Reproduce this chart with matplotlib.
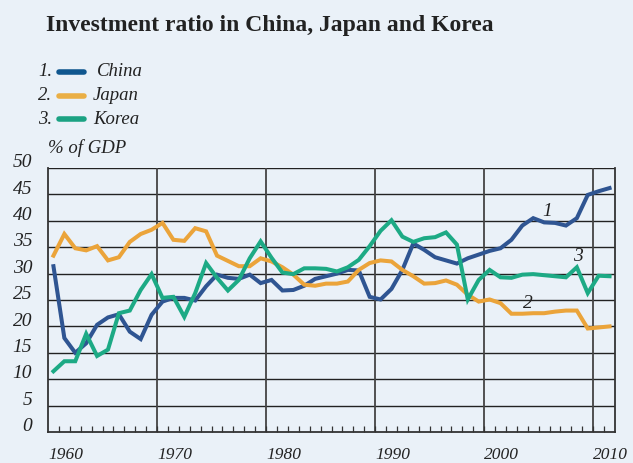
import matplotlib
matplotlib.use('Agg')
import matplotlib.pyplot as plt
import matplotlib.transforms as mtransforms
import numpy as np

# investment ratio, % of GDP, 1960-2011
years = list(range(1960, 2012))
china = [31.4, 17.8, 15.0, 16.8, 20.3, 21.7, 22.3, 19.0, 17.6, 22.2,
         24.7, 25.4, 25.4, 24.9, 27.6, 29.8, 29.2, 29.0, 29.8, 28.2,
         28.8, 26.8, 26.9, 27.7, 29.0, 29.5, 30.0, 30.7, 30.6, 25.6,
         25.1, 27.1, 30.7, 35.7, 34.5, 33.1, 32.5, 31.9, 32.9, 33.6,
         34.3, 34.8, 36.4, 39.1, 40.5, 39.7, 39.6, 39.1, 40.5, 44.9,
         45.6, 46.2]
japan = [33.4, 37.5, 34.8, 34.4, 35.2, 32.5, 33.1, 36.0, 37.5, 38.3,
         39.6, 36.4, 36.2, 38.6, 38.0, 33.4, 32.4, 31.4, 31.4, 32.9,
         32.3, 31.2, 29.8, 27.9, 27.7, 28.1, 28.1, 28.5, 30.7, 32.0,
         32.5, 32.3, 30.7, 29.5, 28.1, 28.2, 28.7, 27.9, 26.0, 24.7,
         25.1, 24.4, 22.4, 22.4, 22.5, 22.5, 22.8, 23.0, 23.0, 19.6,
         19.8, 20.0]
korea = [11.5, 13.4, 13.4, 18.6, 14.4, 15.6, 22.5, 23.0, 26.9, 29.9,
         25.4, 25.6, 21.8, 26.3, 32.0, 29.2, 26.8, 28.8, 32.9, 36.1,
         33.0, 30.2, 29.9, 31.0, 31.0, 30.9, 30.4, 31.2, 32.6, 35.2,
         38.1, 40.1, 37.0, 36.0, 36.7, 36.9, 37.8, 35.5, 25.1, 28.8,
         30.7, 29.3, 29.2, 29.8, 29.9, 29.7, 29.5, 29.3, 31.2, 26.3,
         29.6, 29.5]

names = ['China', 'Japan', 'Korea']
colors = ['#2f5592', '#eba43a', '#1daa85']
legend_colors = ['#10578f', '#eaaf45', '#1ba283']
decades = [1960, 1970, 1980, 1990, 2000, 2010]
yticks = list(range(0, 55, 5))

bg = '#eaf1f8'
plt.rcParams['font.family'] = ['Liberation Serif', 'DejaVu Serif']

fig = plt.figure(figsize=(6.33, 4.63), dpi=100, facecolor=bg)
ax = fig.add_axes([48/633, 31/463, 567/633, 264/463])
ax.set_facecolor(bg)

x = np.array(years) + 0.5
for vals, c in zip([china, japan, korea], colors):
    ax.plot(x, vals, color=c, lw=2.9, solid_joinstyle='miter', zorder=3)

ax.set_xlim(1960, 2012)
ax.set_ylim(0, 50)

# grid
for yv in yticks[1:]:
    ax.axhline(yv, color='#222222', lw=1.0, zorder=1)
for d in decades[1:]:
    ax.axvline(d, color='#444444', lw=1.3, zorder=1)
for s in ax.spines.values():
    s.set_color('#333333')
    s.set_linewidth(1.3)
ax.spines['top'].set_visible(False)

ax.set_xticks([])
ax.set_yticks([])
ax.set_xticks(range(1961, 2012), minor=True)
ax.tick_params(axis='x', which='minor', direction='in', length=4, width=0.9, color='#333333')
ax.tick_params(axis='y', which='both', left=False)

# tick labels
tr_y = mtransforms.blended_transform_factory(ax.transAxes, ax.transData)
for yv in yticks:
    ax.text(-0.028, yv + 1.0, str(yv), transform=tr_y, ha='right', va='center',
            fontsize=14, style='italic', color='#222222')
tr_x = mtransforms.blended_transform_factory(ax.transData, ax.transAxes)
for d in decades:
    ax.text(d, -0.087, str(d), transform=tr_x, ha='left', va='center',
            fontsize=12.5, style='italic', color='#222222')

ax.text(0.0, 1.04, '% of GDP', transform=ax.transAxes, ha='left', va='bottom',
        fontsize=13.5, style='italic', color='#222222')

# series labels on lines
ax.text(2005.8, 41.8, '1', fontsize=14, style='italic', ha='center', va='center', color='#222222')
ax.text(2004.0, 24.3, '2', fontsize=14, style='italic', ha='center', va='center', color='#222222')
ax.text(2008.6, 33.2, '3', fontsize=14, style='italic', ha='center', va='center', color='#222222')

# title and legend
fig.text(46/633, 1 - 26/463, 'Investment ratio in China, Japan and Korea', fontsize=17,
         fontweight='bold', ha='left', va='center', color='#222222')
for i, (n, c) in enumerate(zip(names, legend_colors)):
    yy = 1 - (72 + 23.5*i)/463
    fig.text(38/633, yy, '%d.' % (i + 1), fontsize=13.5, style='italic', ha='left', va='center', color='#222222')
    fig.lines.append(plt.Line2D([59/633, 84/633], [yy, yy], transform=fig.transFigure,
                                color=c, lw=4, solid_capstyle='round'))
    fig.text((97 if i == 0 else 93)/633, yy, n, fontsize=13.5, style='italic', ha='left', va='center', color='#222222')

fig.savefig('out.png', dpi=100, facecolor=bg)
